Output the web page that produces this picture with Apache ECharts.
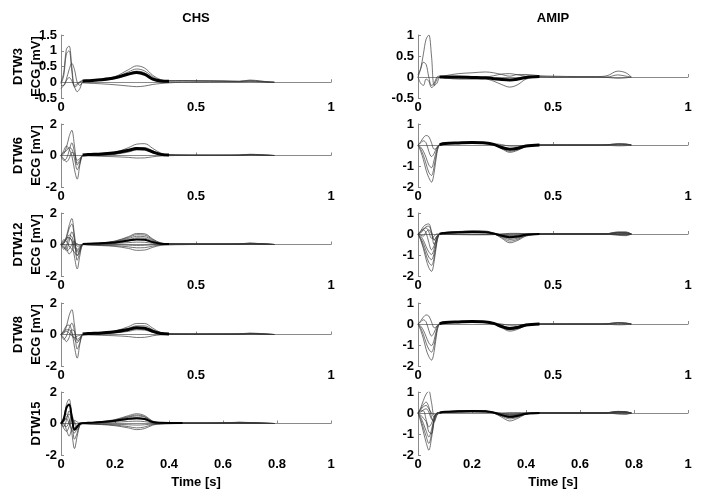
<!DOCTYPE html>
<html><head><meta charset="utf-8">
<script src="https://cdn.jsdelivr.net/npm/echarts@6/dist/echarts.min.js"></script>
<style>html,body{margin:0;padding:0;background:#fff}#c{width:704px;height:502px}</style>
</head><body><div id="c"></div>
<script>
// time samples [s]
const T = [0, 0.01, 0.02, 0.03, 0.04, 0.05, 0.06, 0.07, 0.08, 0.1, 0.15, 0.2, 0.25, 0.28, 0.31, 0.34, 0.37, 0.4, 0.45, 0.5, 0.6, 0.66, 0.7, 0.74, 0.77, 0.79];

// ---- CHS, DTW3
const chs3_a = [0, 0.3, 1.05, 1.15, 0.5, -0.1, -0.05, 0.02, 0.05, 0.06, 0.1, 0.18, 0.4, 0.52, 0.45, 0.22, 0.08, 0.05, 0.05, 0.05, 0.04, 0.03, 0.07, 0.04, 0.01, 0];
const chs3_b = [-0.05, 0.2, 0.9, 1.0, 0.35, -0.15, -0.1, 0.0, 0.04, 0.05, 0.09, 0.15, 0.33, 0.42, 0.36, 0.17, 0.06, 0.04, 0.05, 0.04, 0.04, 0.03, 0.05, 0.03, 0.01, 0];
const chs3_c = [-0.1, -0.1, 0.1, 0.4, 0.6, 0.4, 0.0, -0.1, 0.0, 0.03, 0.06, 0.12, 0.28, 0.35, 0.3, 0.13, 0.05, 0.04, 0.04, 0.04, 0.03, 0.02, 0.04, 0.02, 0.01, 0];
const chs3_d = [-0.2, -0.1, 0.05, 0.15, 0.05, -0.15, -0.3, -0.2, -0.02, -0.03, -0.05, -0.08, -0.12, -0.14, -0.12, -0.07, -0.04, -0.02, 0, 0, 0.01, 0.01, 0.02, 0.01, 0, 0];
const chs3_m = [null, null, null, null, null, null, null, null, 0.04, 0.05, 0.08, 0.14, 0.26, 0.31, 0.25, 0.1, 0.04, 0.03, null, null, null, null, null, null, null, null];

// ---- AMIP, DTW3
const amip3_a = [0, 0.2, 0.55, 0.9, 1.0, 0.5, -0.2, -0.15, 0.0, 0.03, 0.08, 0.1, 0.12, 0.1, 0.06, 0.02, 0.06, 0.06, 0.03, 0.02, 0.01, 0.01, 0.03, 0.14, 0.1, 0];
const amip3_b = [0.05, 0.2, 0.35, 0.3, 0.0, -0.2, -0.15, 0.0, 0.02, -0.02, -0.05, -0.05, -0.05, -0.1, -0.18, -0.24, -0.18, -0.05, 0, 0, 0, 0, 0, 0.05, 0.02, 0];
const amip3_c = [0, -0.15, -0.2, -0.05, -0.1, -0.25, -0.2, -0.05, 0, -0.03, -0.03, -0.02, 0.0, 0.03, 0.07, 0.08, 0.05, 0.02, 0.01, 0, 0, 0, -0.01, -0.03, -0.02, 0];
const amip3_m = [null, null, null, null, null, null, null, null, 0, 0, 0, -0.01, -0.02, -0.04, -0.06, -0.07, -0.05, -0.01, 0.01, null, null, null, null, null, null, null];

// ---- CHS, DTW6
const chs6_a = [0, 0.1, 0.5, 1.2, 1.6, 0.6, -0.5, -0.3, 0, 0.05, 0.1, 0.2, 0.5, 0.72, 0.75, 0.45, 0.15, 0.05, 0.03, 0.02, 0.02, 0.03, 0.08, 0.05, 0.02, 0];
const chs6_b = [0, 0.3, 0.6, 0.4, 0.0, -0.9, -1.5, -0.6, -0.05, 0.0, 0.05, 0.1, 0.3, 0.5, 0.5, 0.3, 0.1, 0.05, 0.03, 0.02, 0.02, 0.03, 0.06, 0.04, 0.02, 0];
const chs6_c = [0, -0.3, -0.2, 0.3, 0.8, 0.2, -0.6, -0.4, 0, 0.02, 0.05, 0.1, 0.28, 0.42, 0.42, 0.25, 0.08, 0.04, 0.02, 0.02, 0.02, 0.02, 0.05, 0.03, 0.01, 0];
const chs6_d = [0, 0.2, 0.3, 0.5, 0.4, -0.2, -0.9, -0.5, 0, 0, 0.03, 0.08, 0.22, 0.35, 0.33, 0.18, 0.06, 0.03, 0.02, 0.02, 0.02, 0.02, 0.05, 0.03, 0.01, 0];
const chs6_e = [0, -0.2, -0.4, -0.2, 0.2, 0.1, -0.3, -0.2, 0, -0.02, -0.05, -0.08, -0.12, -0.16, -0.15, -0.08, -0.03, -0.01, 0, 0, 0, 0, 0.02, 0.01, 0, 0];
const chs6_m = [null, null, null, null, null, null, null, null, 0.03, 0.06, 0.1, 0.17, 0.33, 0.45, 0.42, 0.22, 0.07, 0.03, null, null, null, null, null, null, null, null];

// ---- AMIP, DTW6
const amip6_a = [0, -0.3, -0.7, -1.2, -1.55, -1.77, -1.3, -0.4, 0.0, 0.07, 0.1, 0.12, 0.1, 0.02, -0.18, -0.35, -0.25, -0.08, 0, 0, 0, 0, 0.01, 0.06, 0.05, 0];
const amip6_b = [0, -0.2, -0.5, -0.9, -1.3, -1.45, -1.0, -0.3, 0.0, 0.07, 0.1, 0.12, 0.1, 0.02, -0.15, -0.3, -0.22, -0.07, 0, 0, 0, 0, 0.01, 0.05, 0.04, 0];
const amip6_c = [0, -0.1, -0.3, -0.6, -0.95, -1.08, -0.7, -0.2, 0.02, 0.08, 0.1, 0.12, 0.1, 0.03, -0.12, -0.22, -0.18, -0.05, 0, 0, 0, 0, 0.01, 0.04, 0.03, 0];
const amip6_d = [0, 0.1, 0.2, 0.1, -0.3, -0.55, -0.4, -0.1, 0.02, 0.08, 0.1, 0.12, 0.1, 0.05, -0.08, -0.18, -0.15, -0.04, 0, 0, 0, 0, 0, 0.03, 0.02, 0];
const amip6_e = [0, 0.15, 0.35, 0.45, 0.4, 0.1, -0.2, -0.15, 0.0, 0.06, 0.09, 0.1, 0.08, 0.06, 0.02, -0.05, -0.05, -0.02, 0, 0, 0, 0, -0.01, -0.04, -0.03, 0];
const amip6_m = [null, null, null, null, null, null, null, null, 0.02, 0.07, 0.1, 0.12, 0.1, 0.03, -0.12, -0.2, -0.15, -0.05, 0.0, null, null, null, null, null, null, null];

// ---- CHS, DTW12
const chs12_a = [0, 0.1, 0.5, 1.2, 1.65, 0.6, -0.5, -0.3, 0, 0.05, 0.1, 0.22, 0.5, 0.7, 0.68, 0.35, 0.1, 0.05, 0.04, 0.03, 0.03, 0.04, 0.09, 0.05, 0.02, 0];
const chs12_b = [0, 0.05, 0.4, 1.0, 1.3, 0.4, -0.7, -0.4, 0, 0.05, 0.1, 0.2, 0.45, 0.62, 0.6, 0.3, 0.08, 0.05, 0.04, 0.03, 0.03, 0.04, 0.08, 0.05, 0.02, 0];
const chs12_c = [0, 0.2, 0.4, 0.45, 0.2, -0.8, -1.55, -0.7, -0.05, 0.03, 0.08, 0.17, 0.38, 0.52, 0.5, 0.25, 0.07, 0.04, 0.03, 0.03, 0.03, 0.03, 0.07, 0.04, 0.02, 0];
const chs12_d = [0, -0.2, -0.3, 0.2, 0.8, 0.3, -1.0, -0.5, 0, 0.03, 0.07, 0.14, 0.3, 0.42, 0.4, 0.2, 0.06, 0.04, 0.03, 0.03, 0.03, 0.03, 0.06, 0.04, 0.01, 0];
const chs12_e = [0, 0.3, 0.2, -0.1, -0.3, -0.5, -0.7, -0.3, 0, 0.02, 0.05, 0.1, 0.22, 0.32, 0.3, 0.15, 0.05, 0.03, 0.03, 0.02, 0.02, 0.03, 0.05, 0.03, 0.01, 0];
const chs12_f = [0, -0.3, -0.1, 0.4, 0.3, -0.2, -0.38, -0.2, 0, 0.02, 0.04, 0.07, 0.12, 0.15, 0.14, 0.07, 0.03, 0.02, 0.02, 0.02, 0.02, 0.02, 0.05, 0.03, 0.01, 0];
const chs12_g = [0, 0.1, 0.3, 0.6, 0.5, 0.0, -0.3, -0.15, 0, 0, -0.01, -0.02, -0.04, -0.06, -0.05, -0.02, 0, 0, 0.01, 0.01, 0.01, 0.02, 0.04, 0.02, 0.01, 0];
const chs12_h = [0, -0.1, -0.4, -0.3, 0.0, 0.2, -0.1, -0.1, 0, -0.02, -0.05, -0.08, -0.15, -0.21, -0.2, -0.1, -0.03, -0.01, 0, 0, 0.01, 0.01, 0.03, 0.02, 0, 0];
const chs12_i = [0, 0.0, -0.2, -0.6, -0.4, 0.1, 0.05, -0.05, 0, -0.03, -0.07, -0.12, -0.25, -0.37, -0.35, -0.18, -0.05, -0.02, -0.01, 0, 0, 0, 0.02, 0.01, 0, 0];
const chs12_m = [null, null, null, null, null, null, null, null, 0.03, 0.05, 0.08, 0.13, 0.25, 0.32, 0.3, 0.15, 0.05, 0.03, null, null, null, null, null, null, null, null];

// ---- AMIP, DTW12
const amip12_a = [0, -0.3, -0.7, -1.2, -1.6, -1.78, -1.3, -0.4, 0, 0.08, 0.12, 0.14, 0.12, 0.02, -0.2, -0.42, -0.3, -0.1, -0.01, 0, 0, 0, 0.01, 0.08, 0.08, 0];
const amip12_b = [0, -0.25, -0.6, -1.0, -1.35, -1.49, -1.1, -0.35, 0, 0.07, 0.11, 0.13, 0.11, 0.02, -0.16, -0.34, -0.25, -0.08, -0.01, 0, 0, 0, 0.01, 0.07, 0.06, 0];
const amip12_c = [0, -0.2, -0.45, -0.8, -1.1, -1.22, -0.9, -0.3, 0, 0.06, 0.1, 0.12, 0.1, 0.02, -0.12, -0.26, -0.2, -0.06, 0, 0, 0, 0, 0.01, 0.05, 0.05, 0];
const amip12_d = [0, -0.1, -0.3, -0.6, -0.85, -0.98, -0.7, -0.2, 0, 0.05, 0.09, 0.1, 0.09, 0.03, -0.1, -0.2, -0.15, -0.05, 0, 0, 0, 0, 0, 0.04, 0.03, 0];
const amip12_e = [0, 0.1, 0.2, 0.05, -0.4, -0.75, -0.55, -0.15, 0, 0.04, 0.07, 0.08, 0.07, 0.02, -0.06, -0.12, -0.1, -0.03, 0, 0, 0, 0, 0, 0.02, 0.02, 0];
const amip12_f = [0, 0.15, 0.35, 0.45, 0.48, 0.1, -0.5, -0.2, 0, 0.03, 0.05, 0.06, 0.05, 0.02, -0.04, -0.08, -0.06, -0.02, 0, 0, 0, 0, 0, -0.03, -0.05, 0];
const amip12_g = [0, 0.05, 0.2, 0.35, 0.37, 0.1, -0.27, -0.1, 0, 0.0, 0.0, -0.01, -0.02, -0.02, -0.01, 0.0, 0.01, 0.01, 0, 0, 0, 0, -0.01, -0.06, -0.08, 0];
const amip12_h = [0, 0.1, 0.25, 0.29, 0.1, -0.2, -0.1, 0.0, 0, -0.02, -0.03, -0.04, -0.04, -0.03, 0.0, 0.03, 0.03, 0.01, 0, 0, 0, 0, 0, -0.02, -0.03, 0];
const amip12_i = [0, -0.05, -0.1, 0.1, 0.2, 0.0, -0.3, -0.1, 0, 0.05, 0.1, 0.15, 0.14, 0.05, -0.05, -0.1, -0.08, -0.02, 0, 0, 0, 0, 0.01, 0.1, 0.1, 0];
const amip12_m = [null, null, null, null, null, null, null, null, 0.01, 0.05, 0.08, 0.09, 0.08, 0.02, -0.08, -0.16, -0.12, -0.04, 0.0, null, null, null, null, null, null, null];

// ---- CHS, DTW8
const chs8_a = [0, 0.1, 0.5, 1.2, 1.58, 0.6, -0.4, -0.3, 0, 0.05, 0.1, 0.22, 0.5, 0.7, 0.7, 0.4, 0.12, 0.05, 0.04, 0.03, 0.03, 0.04, 0.09, 0.06, 0.02, 0];
const chs8_b = [0, 0.25, 0.55, 0.6, 0.2, -0.8, -1.5, -0.6, -0.05, 0.03, 0.08, 0.18, 0.4, 0.55, 0.55, 0.3, 0.08, 0.04, 0.03, 0.03, 0.03, 0.03, 0.07, 0.04, 0.02, 0];
const chs8_c = [0, -0.3, -0.1, 0.4, 0.72, 0.2, -0.93, -0.5, 0, 0.03, 0.07, 0.15, 0.33, 0.45, 0.44, 0.22, 0.06, 0.04, 0.03, 0.03, 0.03, 0.03, 0.06, 0.04, 0.01, 0];
const chs8_d = [0, 0.2, 0.3, 0.3, 0.1, -0.3, -0.52, -0.3, 0, 0.03, 0.06, 0.13, 0.28, 0.4, 0.38, 0.18, 0.05, 0.03, 0.03, 0.03, 0.03, 0.03, 0.05, 0.03, 0.01, 0];
const chs8_e = [0, -0.2, -0.45, -0.2, 0.3, 0.2, -0.3, -0.2, 0, 0.02, 0.05, 0.1, 0.2, 0.3, 0.28, 0.14, 0.04, 0.03, 0.02, 0.02, 0.02, 0.03, 0.04, 0.03, 0.01, 0];
const chs8_f = [0, 0.1, 0.2, 0.1, -0.1, -0.2, -0.1, -0.05, 0, -0.02, -0.05, -0.08, -0.13, -0.19, -0.18, -0.08, -0.02, 0, 0, 0, 0.01, 0.01, 0.02, 0.01, 0, 0];
const chs8_m = [null, null, null, null, null, null, null, null, 0.03, 0.06, 0.1, 0.17, 0.32, 0.43, 0.4, 0.2, 0.06, 0.03, null, null, null, null, null, null, null, null];

// ---- AMIP, DTW8
const amip8_a = [0, -0.3, -0.7, -1.2, -1.55, -1.72, -1.3, -0.4, 0, 0.07, 0.1, 0.12, 0.1, 0.02, -0.18, -0.34, -0.25, -0.08, 0, 0, 0, 0, 0.01, 0.07, 0.05, 0];
const amip8_b = [0, -0.2, -0.5, -0.9, -1.2, -1.34, -1.0, -0.3, 0, 0.07, 0.1, 0.12, 0.1, 0.02, -0.15, -0.28, -0.2, -0.06, 0, 0, 0, 0, 0.01, 0.06, 0.04, 0];
const amip8_c = [0, -0.1, -0.3, -0.6, -0.9, -1.03, -0.75, -0.2, 0.02, 0.07, 0.1, 0.12, 0.1, 0.03, -0.12, -0.22, -0.17, -0.05, 0, 0, 0, 0, 0.01, 0.05, 0.03, 0];
const amip8_d = [0, 0.1, 0.2, 0.1, -0.3, -0.57, -0.4, -0.1, 0.02, 0.07, 0.1, 0.11, 0.1, 0.04, -0.08, -0.16, -0.12, -0.04, 0, 0, 0, 0, 0, 0.03, 0.02, 0];
const amip8_e = [0, 0.15, 0.33, 0.43, 0.38, 0.1, -0.18, -0.12, 0, 0.05, 0.08, 0.1, 0.08, 0.05, 0.0, -0.06, -0.05, -0.02, 0, 0, 0, 0, -0.01, -0.04, -0.03, 0];
const amip8_m = [null, null, null, null, null, null, null, null, 0.02, 0.07, 0.1, 0.12, 0.1, 0.03, -0.12, -0.22, -0.16, -0.05, 0.0, null, null, null, null, null, null, null];

// ---- CHS, DTW15
const chs15_a = [0, 0.3, 1.2, 1.55, 0.6, -0.3, -0.2, 0, 0.03, 0.05, 0.12, 0.25, 0.5, 0.62, 0.5, 0.15, 0.06, 0.04, 0.03, 0.03, 0.04, 0.08, 0.06, 0.03, 0.01, 0];
const chs15_b = [0, 0.2, 0.9, 1.24, 0.5, -0.4, -0.3, 0, 0.03, 0.05, 0.1, 0.22, 0.44, 0.54, 0.44, 0.13, 0.05, 0.04, 0.03, 0.03, 0.04, 0.07, 0.05, 0.03, 0.01, 0];
const chs15_c = [0, 0.4, 0.6, 0.3, -0.6, -1.59, -0.8, -0.1, 0.02, 0.04, 0.1, 0.2, 0.4, 0.48, 0.4, 0.12, 0.05, 0.04, 0.03, 0.03, 0.04, 0.07, 0.05, 0.02, 0.01, 0];
const chs15_d = [0, -0.2, 0.2, 0.8, 0.3, -1.0, -0.6, -0.1, 0.02, 0.04, 0.08, 0.17, 0.32, 0.37, 0.3, 0.1, 0.04, 0.03, 0.03, 0.03, 0.03, 0.06, 0.04, 0.02, 0.01, 0];
const chs15_e = [0, 0.2, 0.3, 0.0, -0.4, -0.6, -0.3, -0.05, 0.01, 0.03, 0.07, 0.14, 0.26, 0.3, 0.25, 0.08, 0.03, 0.03, 0.02, 0.02, 0.03, 0.05, 0.04, 0.02, 0.01, 0];
const chs15_f = [0, -0.3, -0.5, -0.2, 0.3, 0.1, -0.15, -0.05, 0, 0.02, 0.05, 0.08, 0.13, 0.15, 0.12, 0.04, 0.02, 0.02, 0.02, 0.02, 0.02, 0.04, 0.03, 0.01, 0, 0];
const chs15_g = [0, 0.1, 0.4, 0.6, 0.2, -0.3, -0.2, 0, 0, -0.01, -0.03, -0.05, -0.08, -0.1, -0.08, -0.03, -0.01, 0, 0.01, 0.01, 0.02, 0.03, 0.02, 0.01, 0, 0];
const chs15_h = [0, -0.1, -0.2, 0.1, 0.5, 0.0, -0.4, -0.1, 0, -0.02, -0.05, -0.1, -0.2, -0.28, -0.22, -0.06, -0.02, -0.01, 0, 0, 0.01, 0.02, 0.02, 0.01, 0, 0];
const chs15_i = [0, 0.0, -0.4, -0.8, -0.3, 0.2, 0.1, 0, 0, -0.03, -0.07, -0.14, -0.28, -0.39, -0.32, -0.1, -0.03, -0.01, 0, 0, 0, 0.01, 0.01, 0, 0, 0];
const chs15_m = [0, 0.25, 1.0, 1.2, 0.4, -0.4, -0.2, 0, 0.02, 0.04, 0.09, 0.18, 0.3, 0.34, 0.28, 0.09, 0.04, 0.03, 0.03, null, null, null, null, null, null, null];

// ---- AMIP, DTW15
const amip15_a = [0, 0.25, 0.6, 0.9, 1.04, 0.5, -0.1, -0.05, 0, 0.04, 0.08, 0.1, 0.08, 0.02, -0.06, -0.1, -0.07, -0.02, 0, 0, 0, 0, 0.01, 0.08, 0.05, 0];
const amip15_b = [0, -0.4, -0.9, -1.4, -1.77, -1.2, -0.4, 0, 0.02, 0.07, 0.1, 0.12, 0.1, 0.0, -0.2, -0.38, -0.25, -0.06, 0, 0, 0, 0, 0.01, 0.06, 0.04, 0];
const amip15_c = [0, -0.3, -0.7, -1.1, -1.45, -1.0, -0.3, 0, 0.02, 0.06, 0.09, 0.11, 0.09, 0.0, -0.15, -0.28, -0.2, -0.05, 0, 0, 0, 0, 0.01, 0.05, 0.03, 0];
const amip15_d = [0, -0.2, -0.5, -0.85, -1.14, -0.8, -0.25, 0, 0.02, 0.06, 0.08, 0.1, 0.08, 0.01, -0.12, -0.2, -0.15, -0.04, 0, 0, 0, 0, 0.01, 0.04, 0.03, 0];
const amip15_e = [0, 0.1, 0.1, -0.3, -0.66, -0.5, -0.15, 0, 0.02, 0.05, 0.08, 0.09, 0.08, 0.02, -0.08, -0.14, -0.1, -0.03, 0, 0, 0, 0, 0, 0.03, 0.02, 0];
const amip15_f = [0, 0.2, 0.4, 0.52, 0.3, -0.2, -0.43, -0.1, 0.0, 0.04, 0.06, 0.08, 0.06, 0.02, -0.04, -0.08, -0.06, -0.02, 0, 0, 0, 0, 0, -0.02, -0.04, 0];
const amip15_g = [0, 0.15, 0.3, 0.36, 0.2, 0.0, -0.2, -0.05, 0, 0.02, 0.03, 0.04, 0.03, 0.02, 0.0, 0.02, 0.02, 0.01, 0, 0, 0, 0, 0, -0.05, -0.06, 0];
const amip15_h = [0, 0.05, 0.15, 0.2, 0.05, -0.3, -0.35, -0.1, 0, 0.03, 0.05, 0.06, 0.06, 0.03, -0.02, -0.05, -0.04, -0.01, 0, 0, 0, 0, 0, 0.05, 0.06, 0];
const amip15_i = [0, -0.1, -0.25, -0.4, -0.9, -0.98, -0.3, 0, 0.02, 0.05, 0.08, 0.1, 0.09, 0.03, -0.1, -0.22, -0.16, -0.04, 0, 0, 0, 0, 0.01, 0.07, 0.05, 0];
const amip15_m = [null, null, null, null, null, null, null, null, 0.02, 0.06, 0.08, 0.1, 0.08, 0.02, -0.1, -0.18, -0.13, -0.04, 0.0, null, null, null, null, null, null, null];

// labels and ticks
const colTitles = ['CHS', 'AMIP'];
const rowNames = ['DTW3\nECG [mV]', 'DTW6\nECG [mV]', 'DTW12\nECG [mV]', 'DTW8\nECG [mV]', 'DTW15'];
const xTitle = 'Time [s]';
const yScaleCHS = [[-0.5, 1.5, 0.5], [-2, 2, 2], [-2, 2, 2], [-2, 2, 2], [-2, 2, 2]];
const yScaleAMIP = [[-0.5, 1, 0.5], [-2, 1, 1], [-2, 1, 1], [-2, 1, 1], [-2, 1, 1]];
const xScaleTop = [0, 1, 0.5];
const xScaleBottom = [0, 1, 0.2];

const panels = [
  [[chs3_a, chs3_b, chs3_c, chs3_d], chs3_m, [amip3_a, amip3_b, amip3_c], amip3_m],
  [[chs6_a, chs6_b, chs6_c, chs6_d, chs6_e], chs6_m, [amip6_a, amip6_b, amip6_c, amip6_d, amip6_e], amip6_m],
  [[chs12_a, chs12_b, chs12_c, chs12_d, chs12_e, chs12_f, chs12_g, chs12_h, chs12_i], chs12_m, [amip12_a, amip12_b, amip12_c, amip12_d, amip12_e, amip12_f, amip12_g, amip12_h, amip12_i], amip12_m],
  [[chs8_a, chs8_b, chs8_c, chs8_d, chs8_e, chs8_f], chs8_m, [amip8_a, amip8_b, amip8_c, amip8_d, amip8_e], amip8_m],
  [[chs15_a, chs15_b, chs15_c, chs15_d, chs15_e, chs15_f, chs15_g, chs15_h, chs15_i], chs15_m, [amip15_a, amip15_b, amip15_c, amip15_d, amip15_e, amip15_f, amip15_g, amip15_h, amip15_i], amip15_m]
];

// ---- layout
const FONT = 'Liberation Sans';
const colLeft = [61, 418];
const rowTop = [35, 124, 213, 303, 392];
const gridW = 270, gridH = 63;

const grids = [], xAxes = [], yAxes = [], series = [];
const toPairs = arr => T.map((t, i) => [t, arr[i]]).filter(p => p[1] !== null);
const axisLabel = {color: '#000', fontFamily: FONT, fontWeight: 'bold', fontSize: 13};

for (let r = 0; r < 5; r++) {
  for (let c = 0; c < 2; c++) {
    const gi = grids.length;
    grids.push({left: colLeft[c], top: rowTop[r], width: gridW, height: gridH});
    const xs = r === 4 ? xScaleBottom : xScaleTop;
    xAxes.push({
      type: 'value', gridIndex: gi, min: xs[0], max: xs[1], interval: xs[2],
      axisLine: {lineStyle: {color: '#8a8a8a', width: 1}},
      axisTick: {inside: true, length: 3, lineStyle: {color: '#8a8a8a'}},
      splitLine: {show: false},
      axisLabel: Object.assign({margin: 3}, axisLabel),
      name: r === 4 ? xTitle : '', nameLocation: 'middle', nameGap: 21, nameMoveOverlap: false,
      nameTextStyle: {color: '#000', fontFamily: FONT, fontWeight: 'bold', fontSize: 13}
    });
    const ys = (c === 0 ? yScaleCHS : yScaleAMIP)[r];
    yAxes.push({
      type: 'value', gridIndex: gi, min: ys[0], max: ys[1], interval: ys[2],
      axisLine: {show: true, lineStyle: {color: '#8a8a8a', width: 1}},
      axisTick: {show: true, inside: true, length: 3, lineStyle: {color: '#8a8a8a'}},
      splitLine: {show: false},
      axisLabel: Object.assign({margin: 4}, axisLabel),
      name: c === 0 ? rowNames[r] : '', nameLocation: 'middle', nameGap: 16, nameRotate: 90, nameMoveOverlap: false,
      nameTextStyle: {color: '#000', fontFamily: FONT, fontWeight: 'bold', fontSize: 13, lineHeight: 18}
    });
    const traces = panels[r][c * 2];
    const mean = panels[r][c * 2 + 1];
    traces.forEach(tr => series.push({
      type: 'line', xAxisIndex: gi, yAxisIndex: gi, data: toPairs(tr),
      showSymbol: false, smooth: 0.35, silent: true,
      lineStyle: {color: '#3a3a3a', width: 0.7}
    }));
    series.push({
      type: 'line', xAxisIndex: gi, yAxisIndex: gi, data: toPairs(mean),
      showSymbol: false, smooth: 0.35, silent: true,
      lineStyle: {color: '#000', width: (r === 2 || r === 4) ? 2 : 3}
    });
  }
}

const chart = echarts.init(document.getElementById('c'), null, {renderer: 'canvas'});
chart.setOption({
  animation: false,
  backgroundColor: '#fff',
  grid: grids, xAxis: xAxes, yAxis: yAxes, series: series,
  graphic: colTitles.map((txt, c) => ({
    type: 'text', x: colLeft[c] + gridW / 2, y: 18,
    style: {text: txt, fill: '#000', font: 'bold 13px "' + FONT + '"', textAlign: 'center', textVerticalAlign: 'middle'}
  }))
});
</script>
</body></html>
